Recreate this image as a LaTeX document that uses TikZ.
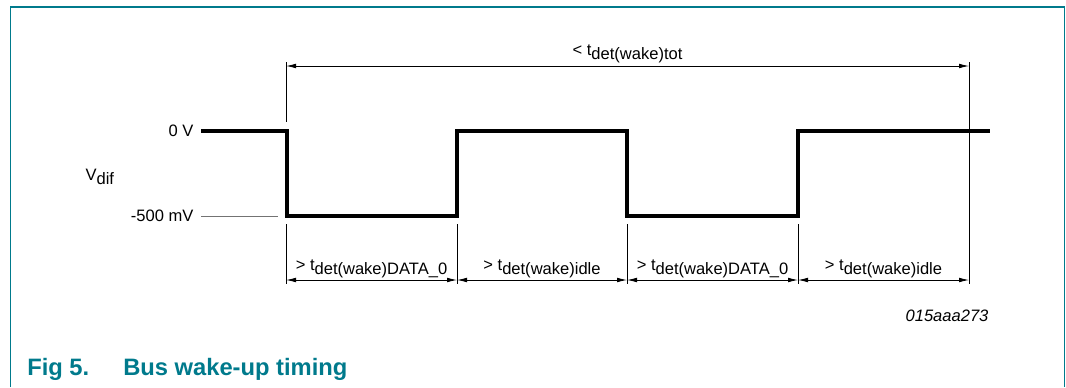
\documentclass[tikz,border=0pt]{standalone}
\usepackage{fontspec}
\setmainfont{Liberation Sans}
\usetikzlibrary{arrows.meta}
\definecolor{nxpteal}{RGB}{0,122,140}
\newcommand{\lowsub}[1]{\raisebox{-3pt}{#1}}
\tikzset{
  lbl/.style={font=\fontsize{12.4}{14}\selectfont, inner sep=1pt},
  sig/.style={line width=2.3pt, line join=miter},
  tick/.style={line width=0.6pt},
  dim/.style={line width=0.6pt, {Latex[length=7.5pt,width=3.5pt]}-{Latex[length=7.5pt,width=3.5pt]}},
}
\begin{document}
\begin{tikzpicture}[x=0.75pt,y=-0.75pt]
      \useasboundingbox (0,0) rectangle (1066,387);
      \draw[nxpteal, line width=1.1pt] (10.5,387) -- (10.5,7) -- (1064.5,7) -- (1064.5,387);
      \draw
        (195,131) node[lbl, anchor=east] (zero){0 V}
        (195,216) node[lbl, anchor=east] (low){-500 mV}
        (84,180) node[lbl, anchor=base west] (vdif){V\lowsub{dif}}
        (990,321) node[lbl, anchor=base east] (code){\itshape 015aaa273}
        (27,375) node[anchor=base west, inner sep=0pt, text=nxpteal,
          font=\fontsize{17.8}{20}\selectfont\bfseries] (fig){Fig 5.}
        (123,375) node[anchor=base west, inner sep=0pt, text=nxpteal,
          font=\fontsize{17.8}{20}\selectfont\bfseries] (title){Bus wake-up timing};
      % tick marks
      \coordinate (a0) at (286,66);
      \coordinate (a1) at (969,66);
      \coordinate (b0) at (286,280);
      \coordinate (b1) at (457,280);
      \coordinate (b2) at (627,280);
      \coordinate (b3) at (798,280);
      \coordinate (b4) at (969,280);
      \begin{scope}[tick]
        \draw (286,62) to (286,122);
        \draw (969,62) to (969,284);
        \draw (286,224) to (286,284);
        \draw (457,224) to (457,284);
        \draw (627,224) to (627,284);
        \draw (798,224) to (798,284);
      \end{scope}
      \draw[tick, black!55] (201,216) to (278,216);
      \draw[sig] (201,131) -- (287,131) -- (287,216) -- (457,216) -- (457,131)
        -- (627,131) -- (627,216) -- (798,216) -- (798,131) -- (990,131);
      \begin{scope}[dim]
        \draw (a0) to node[lbl, midway, above, inner sep=2pt] (tot){< t\lowsub{det(wake)tot}} (a1);
        \draw (b0) to node[lbl, midway, above] (d0){> t\lowsub{det(wake)DATA\_0}} (b1);
        \draw (b1) to node[lbl, midway, above] (i0){> t\lowsub{det(wake)idle}} (b2);
        \draw (b2) to node[lbl, midway, above] (d1){> t\lowsub{det(wake)DATA\_0}} (b3);
        \draw (b3) to node[lbl, midway, above] (i1){> t\lowsub{det(wake)idle}} (b4);
      \end{scope}
    \end{tikzpicture}
\end{document}
